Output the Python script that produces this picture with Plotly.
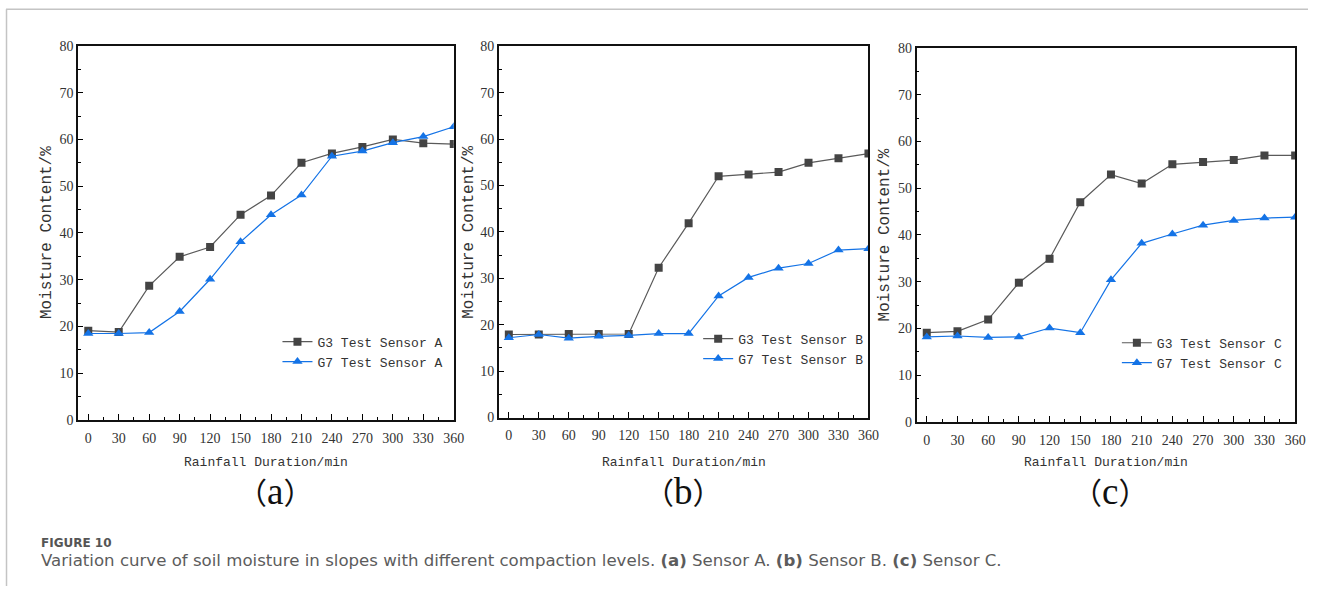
import plotly.graph_objects as go

W, H = 1319, 594
# Observed mapping of the rendered picture: x_out = SX * x, y_out = OY + SY * y.
SX, SY, OY = 0.99, 0.973, 7.2

duration = [0, 30, 60, 90, 120, 150, 180, 210, 240, 270, 300, 330, 360]

g3_a = [19.1, 18.8, 28.7, 34.9, 37.0, 43.9, 48.0, 55.0, 57.0, 58.4, 60.0, 59.2, 59.0]
g7_a = [18.5, 18.5, 18.7, 23.2, 30.1, 38.1, 43.9, 48.1, 56.4, 57.5, 59.3, 60.6, 62.7]

g3_b = [17.9, 17.9, 18.0, 18.0, 18.0, 32.3, 41.9, 52.0, 52.4, 52.9, 54.9, 55.9, 56.9]
g7_b = [17.2, 17.9, 17.1, 17.5, 17.7, 18.1, 18.1, 26.2, 30.2, 32.2, 33.2, 36.1, 36.4]

g3_c = [19.1, 19.4, 21.9, 29.8, 34.9, 47.0, 52.9, 51.0, 55.1, 55.6, 56.0, 57.0, 57.0]
g7_c = [18.2, 18.4, 18.1, 18.2, 20.1, 19.1, 30.4, 38.2, 40.2, 42.1, 43.1, 43.6, 43.8]

sensors = ["A", "B", "C"]
panel_letters = ["a", "b", "c"]
x_ticks = duration
y_ticks = [0, 10, 20, 30, 40, 50, 60, 70, 80]

x_title = "Rainfall Duration/min"
y_title = "Moisture Content/%"
caption_head = "FIGURE 10"
caption_body = ("Variation curve of soil moisture in slopes with different compaction levels. "
                "<b>(a)</b> Sensor A. <b>(b)</b> Sensor B. <b>(c)</b> Sensor C.")

G3_COLOR = "#444444"
G3_LINE = "#5a5a5a"
G7_COLOR = "#1473e6"

MONO = "Liberation Mono, DejaVu Sans Mono, monospace"
SERIF = "Liberation Serif, serif"
CJK = "Noto Sans CJK SC"

# target pixel boxes of the three plot areas: (left, right, top, bottom)
boxes = [(78, 453, 46, 419.5), (498, 867, 46.5, 417), (915, 1293, 48, 421.5)]
legend_pos = [(277, 326.4), (697, 323.4), (1115, 327.4)]
ytitle_x = [47, 468, 883]
label_cx = [275, 682, 1108]

def px(x):
    return (x / SX) / W

def py(y):
    return 1 - ((y - OY) / SY) / H

fig = go.Figure()

series = [(g3_a, g7_a), (g3_b, g7_b), (g3_c, g7_c)]

for i, (g3, g7) in enumerate(series):
    suf = "" if i == 0 else str(i + 1)
    leg = "legend" if i == 0 else f"legend{i + 1}"
    fig.add_trace(go.Scatter(
        x=duration, y=g3, mode="lines+markers", name=f"G3 Test Sensor {sensors[i]}",
        line=dict(color=G3_LINE, width=1.2),
        marker=dict(symbol="square", size=8, color=G3_COLOR),
        xaxis="x" + suf, yaxis="y" + suf, legend=leg))
    fig.add_trace(go.Scatter(
        x=duration, y=g7, mode="lines+markers", name=f"G7 Test Sensor {sensors[i]}",
        line=dict(color=G7_COLOR, width=1.2),
        marker=dict(symbol="triangle-up", size=9, color=G7_COLOR),
        xaxis="x" + suf, yaxis="y" + suf, legend=leg))

annotations = []
layout_axes = {}
for i, (l, r, t, b) in enumerate(boxes):
    suf = "" if i == 0 else str(i + 1)
    layout_axes["xaxis" + suf] = dict(
        domain=[px(l), px(r)], anchor="y" + suf, range=[-10, 360],
        tickvals=x_ticks, ticks="inside", ticklen=6, tickwidth=1.2, tickcolor="#000",
        minor=dict(dtick=15, tick0=0, ticks="inside", ticklen=3, tickcolor="#000", tickwidth=1),
        showline=True, linecolor="#111", linewidth=1.5, mirror=True,
        showgrid=False, zeroline=False,
        tickfont=dict(family=SERIF, size=14, color="#333"), ticklabelstandoff=4,
        fixedrange=True)
    layout_axes["yaxis" + suf] = dict(
        domain=[py(b), py(t)], anchor="x" + suf, range=[0, 80],
        tickvals=y_ticks, ticks="inside", ticklen=5, tickwidth=1.2, tickcolor="#000",
        minor=dict(dtick=5, tick0=0, ticks="inside", ticklen=3, tickcolor="#000", tickwidth=1),
        showline=True, linecolor="#111", linewidth=1.5, mirror=True,
        showgrid=False, zeroline=False,
        tickfont=dict(family=SERIF, size=14, color="#333"),
        fixedrange=True)
    cx = (l + r) / 2
    annotations.append(dict(
        text=x_title, x=px(cx), y=py(462), xref="paper", yref="paper",
        xanchor="center", yanchor="middle", showarrow=False,
        font=dict(family=MONO, size=13, color="#333")))
    annotations.append(dict(
        text=y_title, x=px(ytitle_x[i]), y=py((t + b) / 2), xref="paper", yref="paper",
        xanchor="center", yanchor="middle", showarrow=False, textangle=-90,
        font=dict(family=MONO, size=16, color="#333")))
    label = (f"<span style='font-family:{CJK};font-size:30px'>（</span>"
             f"{panel_letters[i]}"
             f"<span style='font-family:{CJK};font-size:30px'>）</span>")
    annotations.append(dict(
        text=label, x=px(label_cx[i]), y=py(490), xref="paper", yref="paper",
        xanchor="center", yanchor="middle", showarrow=False,
        font=dict(family=SERIF, size=37, color="#111")))

annotations.append(dict(
    text="<b>" + caption_head + "</b>", x=px(39), y=py(542), xref="paper", yref="paper",
    xanchor="left", yanchor="middle", showarrow=False,
    font=dict(family="DejaVu Sans, sans-serif", size=12, color="#555")))
annotations.append(dict(
    text=caption_body, x=px(39), y=py(560), xref="paper", yref="paper",
    xanchor="left", yanchor="middle", showarrow=False,
    font=dict(family="DejaVu Sans, sans-serif", size=16.6, color="#5c5c5c")))

legends = {}
for i, (lx, ly) in enumerate(legend_pos):
    key = "legend" if i == 0 else f"legend{i + 1}"
    legends[key] = dict(
        x=px(lx), y=py(ly), xanchor="left", yanchor="top",
        bgcolor="rgba(0,0,0,0)", borderwidth=0,
        font=dict(family=MONO, size=13, color="#333"),
        itemwidth=30, tracegroupgap=0)

shapes = [
    dict(type="line", xref="paper", yref="paper", x0=px(6), x1=1, y0=py(9.5), y1=py(9.5),
         line=dict(color="#c4c4c4", width=1.5)),
    dict(type="line", xref="paper", yref="paper", x0=px(6.5), x1=px(6.5), y0=py(9.5), y1=0,
         line=dict(color="#c4c4c4", width=1.5)),
]

fig.update_layout(
    width=W, height=H, margin=dict(l=0, r=0, t=0, b=0),
    paper_bgcolor="white", plot_bgcolor="white",
    showlegend=True, annotations=annotations, shapes=shapes,
    **layout_axes, **legends)

fig.write_html("out.html", config={"displayModeBar": False})
